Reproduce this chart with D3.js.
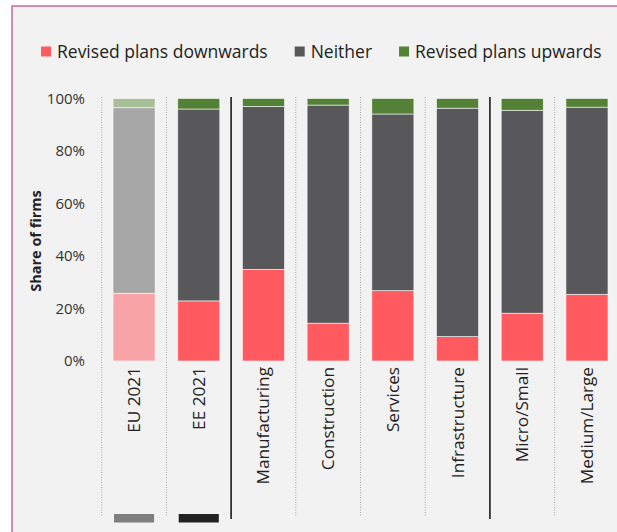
<!DOCTYPE html>
<html>
<head>
<meta charset="utf-8">
<script src="https://cdn.jsdelivr.net/npm/d3@7"></script>
<style>
  body { margin: 0; background: #fff; }
  svg { display: block; font-family: "Open Sans", sans-serif; }
</style>
</head>
<body>
<svg width="617" height="532"></svg>
<script>
var svg = d3.select('svg');

// data (% of firms)
var categories = ["EU 2021", "EE 2021", "Manufacturing", "Construction", "Services", "Infrastructure", "Micro/Small", "Medium/Large"];
var downwards = [25.8, 22.9, 34.9, 14.4, 26.8, 9.3, 18.2, 25.4];
var neither   = [70.7, 73.1, 62.1, 83.1, 67.3, 87.0, 77.3, 71.3];
var upwards   = [3.5, 4.0, 3.0, 2.5, 5.9, 3.7, 4.5, 3.3];
var seriesNames = ["Revised plans downwards", "Neither", "Revised plans upwards"];
var yTicks = [0, 20, 40, 60, 80, 100];
var solidAfter = ["EE 2021", "Infrastructure"];
var baseMarks = [{cat: "EU 2021", fill: "#7f7f7f"}, {cat: "EE 2021", fill: "#222222"}];

var colors = ["#ff5a5f", "#58585a", "#538135"];
var fadedColors = ["#f8a3a6", "#a6a6a6", "#a9bf9a"];

var rows = categories.map(function (c, i) {
    return {cat: c, down: downwards[i], neither: neither[i], up: upwards[i]};
});

// panel background
svg.append("rect")
    .attr("x", 12).attr("y", 6)
    .attr("width", 700).attr("height", 600)
    .attr("fill", "#f2f2f2")
    .attr("stroke", "#c8689a")
    .attr("stroke-width", 1.5);

var x = d3.scaleBand()
    .domain(categories)
    .range([101.7, 619.3])
    .paddingInner(0.35)
    .paddingOuter(0.175);

var y = d3.scaleLinear()
    .domain([0, 100])
    .range([361, 98.5]);

var step = x.step();
var gap = step - x.bandwidth();

// separators
var seps = categories.slice(0, categories.length - 1);
svg.append("line")
    .attr("x1", x(categories[0]) - gap / 2).attr("x2", x(categories[0]) - gap / 2)
    .attr("y1", 97).attr("y2", 517)
    .attr("stroke", "#a8a8a8").attr("stroke-width", 1)
    .attr("stroke-dasharray", "1,1.5");

svg.selectAll("line.sep")
    .data(seps)
    .enter()
    .append("line")
    .attr("class", "sep")
    .attr("x1", function (d) { return x(d) + x.bandwidth() + gap / 2; })
    .attr("x2", function (d) { return x(d) + x.bandwidth() + gap / 2; })
    .attr("y1", 97)
    .attr("y2", function (d) { return solidAfter.indexOf(d) >= 0 ? 519 : 517; })
    .attr("stroke", function (d) { return solidAfter.indexOf(d) >= 0 ? "#333" : "#a8a8a8"; })
    .attr("stroke-width", function (d) { return solidAfter.indexOf(d) >= 0 ? 1.8 : 1; })
    .attr("stroke-dasharray", function (d) { return solidAfter.indexOf(d) >= 0 ? null : "1,1.5"; });

// stacked bars
var stack = d3.stack().keys(["down", "neither", "up"]);
var layers = stack(rows);

svg.selectAll("g.layer")
    .data(layers)
    .enter()
    .append("g")
    .attr("class", "layer")
    .each(function (layer, li) {
        d3.select(this).selectAll("rect")
            .data(layer)
            .enter()
            .append("rect")
            .attr("x", function (d) { return x(d.data.cat); })
            .attr("width", x.bandwidth())
            .attr("y", function (d) { return y(d[1]); })
            .attr("height", function (d) { return y(d[0]) - y(d[1]); })
            .attr("fill", function (d) { return d.data.cat === "EU 2021" ? fadedColors[li] : colors[li]; })
            .attr("stroke", "#ffffff")
            .attr("stroke-opacity", 0.7)
            .attr("stroke-width", 0.8);
    });

// y axis labels
svg.selectAll("text.ytick")
    .data(yTicks)
    .enter()
    .append("text")
    .attr("class", "ytick")
    .attr("x", 85)
    .attr("y", function (d) { return y(d); })
    .attr("dy", "0.35em")
    .attr("text-anchor", "end")
    .attr("font-size", 15)
    .attr("fill", "#333")
    .text(function (d) { return d + "%"; });

svg.append("text")
    .attr("transform", "translate(40.5,241) rotate(-90)")
    .attr("text-anchor", "middle")
    .attr("font-size", 14.5)
    .attr("font-weight", "bold")
    .attr("fill", "#222")
    .text("Share of firms");

// category labels
svg.selectAll("text.cat")
    .data(categories)
    .enter()
    .append("text")
    .attr("class", "cat")
    .attr("transform", function (d) {
        return "translate(" + (x(d) + x.bandwidth() / 2) + ",367) rotate(-90)";
    })
    .attr("dy", "0.35em")
    .attr("text-anchor", "end")
    .attr("font-size", 17.2)
    .attr("fill", "#222")
    .text(function (d) { return d; });

// small marks under first two bars
svg.selectAll("rect.base")
    .data(baseMarks)
    .enter()
    .append("rect")
    .attr("class", "base")
    .attr("x", function (d) { return x(d.cat) + 1; })
    .attr("width", x.bandwidth() - 2)
    .attr("y", 514)
    .attr("height", 8.5)
    .attr("fill", function (d) { return d.fill; });

// legend
var lx = 41;
seriesNames.forEach(function (name, i) {
    svg.append("rect")
        .attr("x", lx).attr("y", 46.5)
        .attr("width", 10).attr("height", 10)
        .attr("fill", colors[i]);
    var t = svg.append("text")
        .attr("x", lx + 16)
        .attr("y", 52)
        .attr("dy", "0.35em")
        .attr("font-size", 17.5)
        .attr("fill", "#222")
        .text(name);
    lx = lx + 16 + t.node().getComputedTextLength() + 27;
});
</script>
</body>
</html>
